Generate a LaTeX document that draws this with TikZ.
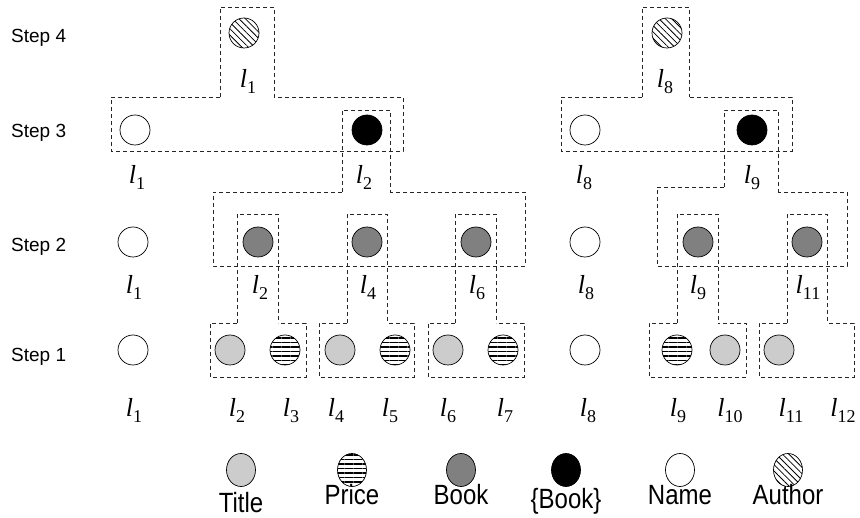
\documentclass[tikz,border=0pt]{standalone}
\usepackage{fontspec}
\usepackage{graphicx}
\setmainfont{Liberation Serif}
\setsansfont{Liberation Sans}
\usetikzlibrary{patterns.meta,shapes.geometric}

% italic l with a lowered index
\newcommand{\lab}[1]{{\itshape l}\raisebox{-6pt}{\fontsize{18}{18}\selectfont #1}}
% legend words are set a bit taller
\newcommand{\tall}[1]{\scalebox{1}[1.16]{#1}}

\begin{document}
\begin{tikzpicture}
[x=1pt,y=-1pt,
dot/.style={circle,draw,line width=0.7pt,minimum size=30pt,inner sep=0pt},
titlenode/.style={dot,fill=black!20},
pricenode/.style={dot,pattern={Lines[angle=0,distance=4.5pt,line width=1.8pt]}},
booknode/.style={dot,fill=black!50},
setnode/.style={dot,fill=black},
namenode/.style={dot,fill=white},
authornode/.style={dot,pattern={Lines[angle=-45,distance=4.5pt,line width=0.8pt]}},
key/.style={shape=ellipse,minimum width=29pt,minimum height=33pt},
lbl/.style={anchor=base,inner sep=0pt,font=\fontsize{26}{26}\selectfont},
steptext/.style={anchor=base west,inner sep=0pt,font=\sffamily\fontsize{19}{19}\selectfont},
keytext/.style={anchor=base,inner sep=0pt,font=\sffamily\fontsize{24}{24}\selectfont},
grp/.style={draw=black!85,line width=0.7pt,dash pattern=on 4pt off 3pt}]
\useasboundingbox (0,0) rectangle (860,518);

% step names
\node[steptext] (st4) at (11,43) {Step 4};
\node[steptext] (st3) at (11,138) {Step 3};
\node[steptext] (st2) at (11,252) {Step 2};
\node[steptext] (st1) at (11,362) {Step 1};

% group outlines, left tree
\draw[grp] (220,97) -- (220,7) -- (274,7) -- (274,97);
\draw[grp] (220,97) -- (111,97) -- (111,151) -- (403,151) -- (403,97) -- (274,97);
\draw[grp] (342,192) -- (342,110) -- (390,110) -- (390,192);
\draw[grp] (342,192) -- (213,192) -- (213,266) -- (525,266) -- (525,192) -- (390,192);
\draw[grp] (237,323) -- (237,214) -- (278,214) -- (278,323);
\draw[grp] (347,323) -- (347,214) -- (387,214) -- (387,323);
\draw[grp] (455,323) -- (455,214) -- (496,214) -- (496,323);
\draw[grp] (237,323) -- (210,323) -- (210,377) -- (306,377) -- (306,323) -- (278,323);
\draw[grp] (347,323) -- (319,323) -- (319,377) -- (414,377) -- (414,323) -- (387,323);
\draw[grp] (455,323) -- (428,323) -- (428,377) -- (524,377) -- (524,323) -- (496,323);

% group outlines, right tree
\draw[grp] (642,97) -- (642,7) -- (689,7) -- (689,97);
\draw[grp] (642,97) -- (561,97) -- (561,151) -- (792,151) -- (792,97) -- (689,97);
\draw[grp] (724,187) -- (724,110) -- (778,110) -- (778,192);
\draw[grp] (724,187) -- (657,187) -- (657,266) -- (847,266) -- (847,192) -- (778,192);
\draw[grp] (677,323) -- (677,214) -- (718,214) -- (718,323);
\draw[grp] (787,323) -- (787,214) -- (827,214) -- (827,323);
\draw[grp] (677,323) -- (649,323) -- (649,377) -- (746,377) -- (746,323) -- (718,323);
\draw[grp] (787,323) -- (759,323) -- (759,377) -- (854,377) -- (854,323) -- (827,323);

% step 4
\node[authornode] (s4a1) at (244,33) {};
\node[authornode] (s4a8) at (667,33) {};
\node[lbl] (s4l1) at (248,88) {\lab{1}};
\node[lbl] (s4l8) at (665,88) {\lab{8}};

% step 3
\node[namenode] (s3n1) at (135,130) {};
\node[setnode] (s3b2) at (367,130) {};
\node[namenode] (s3n8) at (585,130) {};
\node[setnode] (s3b9) at (752,130) {};
\node[lbl] (s3l1) at (137,184) {\lab{1}};
\node[lbl] (s3l2) at (364,184) {\lab{2}};
\node[lbl] (s3l8) at (584,184) {\lab{8}};
\node[lbl] (s3l9) at (752,184) {\lab{9}};

% step 2
\node[namenode] (s2n1) at (133,242) {};
\node[booknode] (s2b2) at (258,242) {};
\node[booknode] (s2b4) at (367,242) {};
\node[booknode] (s2b6) at (476,242) {};
\node[namenode] (s2n8) at (585,242) {};
\node[booknode] (s2b9) at (698,242) {};
\node[booknode] (s2b11) at (807,242) {};
\node[lbl] (s2l1) at (134,294) {\lab{1}};
\node[lbl] (s2l2) at (260,294) {\lab{2}};
\node[lbl] (s2l4) at (368,294) {\lab{4}};
\node[lbl] (s2l6) at (477,294) {\lab{6}};
\node[lbl] (s2l8) at (586,294) {\lab{8}};
\node[lbl] (s2l9) at (698,294) {\lab{9}};
\node[lbl] (s2l11) at (808,294) {\lab{11}};

% step 1
\node[namenode] (s1n1) at (133,350) {};
\node[titlenode] (s1t2) at (230,350) {};
\node[pricenode] (s1p3) at (285,350) {};
\node[titlenode] (s1t4) at (340,350) {};
\node[pricenode] (s1p5) at (395,350) {};
\node[titlenode] (s1t6) at (448,350) {};
\node[pricenode] (s1p7) at (503,350) {};
\node[namenode] (s1n8) at (585,350) {};
\node[pricenode] (s1p9) at (677,350) {};
\node[titlenode] (s1t10) at (725,350) {};
\node[titlenode] (s1t11) at (779,350) {};
\node[lbl] (s1l1) at (134,417) {\lab{1}};
\node[lbl] (s1l2) at (237,417) {\lab{2}};
\node[lbl] (s1l3) at (291,417) {\lab{3}};
\node[lbl] (s1l4) at (336,417) {\lab{4}};
\node[lbl] (s1l5) at (390,417) {\lab{5}};
\node[lbl] (s1l6) at (448,417) {\lab{6}};
\node[lbl] (s1l7) at (505,417) {\lab{7}};
\node[lbl] (s1l8) at (588,417) {\lab{8}};
\node[lbl] (s1l9) at (678,417) {\lab{9}};
\node[lbl] (s1l10) at (730,417) {\lab{10}};
\node[lbl] (s1l11) at (791,417) {\lab{11}};
\node[lbl] (s1l12) at (843,417) {\lab{12}};

% legend
\node[titlenode,key] (kt) at (241,470) {};
\node[pricenode,key] (kp) at (352,470) {};
\node[booknode,key] (kb) at (461,470) {};
\node[setnode,key] (ks) at (566,470) {};
\node[namenode,key] (kn) at (680,470) {};
\node[authornode,key] (ka) at (788,470) {};
\node[keytext] (ktl) at (241,512) {\tall{Title}};
\node[keytext] (kpl) at (352,505) {\tall{Price}};
\node[keytext] (kbl) at (461,505) {\tall{Book}};
\node[keytext] (ksl) at (566,509) {\tall{\{Book\}}};
\node[keytext] (knl) at (680,505) {\tall{Name}};
\node[keytext] (kal) at (788,505) {\tall{Author}};
\end{tikzpicture}
\end{document}
